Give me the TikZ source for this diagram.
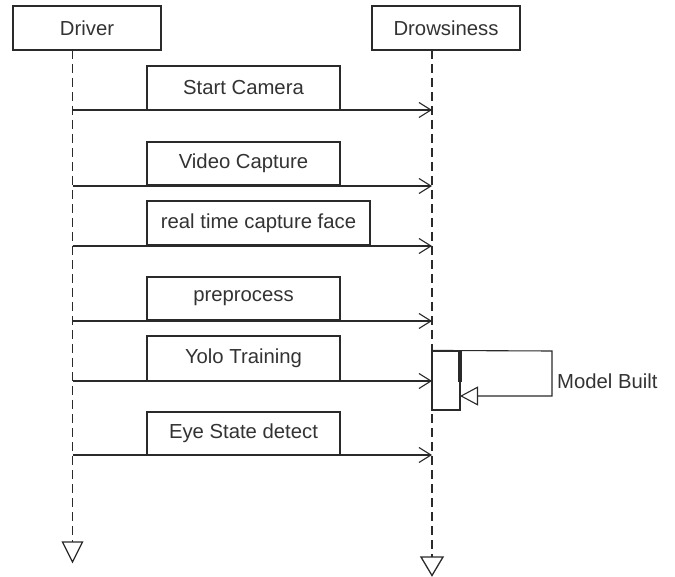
\documentclass[tikz,border=0pt]{standalone}
\usepackage{fontspec}
\setmainfont{Liberation Sans}
\usetikzlibrary{arrows.meta}
\definecolor{ln}{HTML}{2A2A2A}
\definecolor{tx}{HTML}{333333}
\begin{document}
\begin{tikzpicture}[x=1pt,y=-1pt,
  box/.style={draw=ln, line width=1.3pt, text=tx, font=\fontsize{20.3}{24}\selectfont, inner sep=0pt, minimum height=44pt},
  life/.style={draw=ln, line width=1.1pt, dash pattern=on 9pt off 5pt},
  msg/.style={draw=ln, line width=1.1pt, -{Straight Barb[length=12pt,width=15pt,line width=1.1pt]}},
  endtri/.style={draw=ln, line width=1.3pt, fill=white},
  lbl/.style={text=tx, font=\fontsize{20.3}{24}\selectfont, inner sep=0pt, anchor=west}]
\useasboundingbox (0,0) rectangle (675,577);
\fill[white] (0,0) rectangle (675,577);

% participants
\node[box, minimum width=148pt] (driver) at (87,28) {Driver};
\node[box, minimum width=148pt] (drow) at (446,28) {Drowsiness};

% lifeline coordinates
\coordinate (dtop) at (72.5,50);
\coordinate (dbot) at (72.5,542);
\coordinate (wtop) at (432,50);
\coordinate (wbot) at (432,557);
\draw[life] (dtop) -- (dbot);
\draw[life] (wtop) -- (wbot);

% end triangles
\draw[endtri] (62.5,542) -- (82.5,542) -- (72.5,562) -- cycle;
\draw[endtri] (421,557) -- (443,557) -- (432,575.5) -- cycle;

% activation
\node[draw=ln, line width=1.1pt, fill=white, minimum width=28pt, minimum height=59pt, inner sep=0pt] (act) at (446,380.5) {};
\coordinate (thk1) at (460,351);
\coordinate (thk2) at (460,382);

% message boxes
\node[box, minimum width=193pt] (m1) at (243.5,88) {Start Camera};
\node[box, minimum width=193pt, minimum height=43pt] (m2) at (243.5,163.5) {Video Capture};
\node[box, minimum width=223pt] (m3) at (258.5,223) {real time capture face};
\node[box, minimum width=193pt, minimum height=43pt] (m4) at (243.5,298.5) {preprocess};
\node[box, minimum width=193pt, minimum height=45pt] (m5) at (243.5,358.5) {Yolo Training};
\node[box, minimum width=193pt, minimum height=43pt] (m6) at (243.5,433.5) {Eye State detect};

% message arrows
\foreach \i/\y in {1/110,2/186,3/246,4/321,5/381,6/455}{
  \coordinate (s\i) at (72.5,\y);
  \coordinate (e\i) at (432,\y);
  \draw[msg] (s\i) -- (e\i);
}

% self message
\coordinate (lp1) at (552,351);
\coordinate (lp2) at (552,396);
\coordinate (lp3) at (460,396);
\draw[draw=ln, line width=1.1pt, -{Triangle[open, length=18pt, width=19pt, line width=1.1pt]}]
  (act.north west) -- (lp1) -- (lp2) -- (lp3);
\draw[ln, line width=3.2pt] (thk1) -- (thk2);
\node[lbl] (mb) at (557,381) {Model Built};
\end{tikzpicture}
\end{document}
